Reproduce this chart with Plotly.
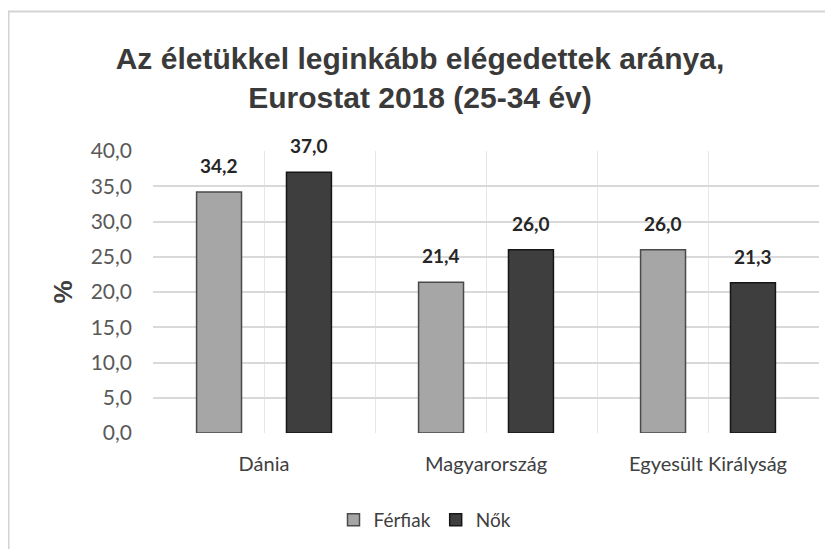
import plotly.graph_objects as go

categories = ["Dánia", "Magyarország", "Egyesült Királyság"]
ferfiak = [34.2, 21.4, 26.0]
nok = [37.0, 26.0, 21.3]
series_names = ["Férfiak", "Nők"]
y_ticks = [0, 5, 10, 15, 20, 25, 30, 35, 40]
title_lines = ["Az életükkel leginkább elégedettek aránya,", "Eurostat 2018 (25-34 év)"]

# page is drawn with an 8px body margin; layout numbers below are in figure px
OFF = 8
W, H = 833, 549
PL, PR, PT, PB = 153 - OFF, 819 - OFF, 151 - OFF, 433 - OFF
pw, ph = PR - PL, PB - PT

BARGAP, GROUPGAP = 0.19, 0.5
slot = (1 - BARGAP) / 2

xpos = list(range(len(categories)))
tickvals, ticktext = [], []
for i, c in enumerate(categories):
    tickvals += [i - 0.5, i]
    ticktext += ["", c]
tickvals.append(len(categories) - 0.5)
ticktext.append("")

lato = "Lato, Noto Sans, sans-serif"

fig = go.Figure()
fig.add_trace(go.Bar(
    x=xpos, y=ferfiak, name=series_names[0],
    marker=dict(color="#a6a6a6", line=dict(color="#4a4a4a", width=1.5)),
))
fig.add_trace(go.Bar(
    x=xpos, y=nok, name=series_names[1],
    marker=dict(color="#3e3e3e", line=dict(color="#161616", width=1.5)),
))

annotations = []
for sgn, vals in ((-1, ferfiak), (1, nok)):
    for i, v in zip(xpos, vals):
        annotations.append(dict(
            x=i + sgn * slot / 2, y=v, xref="x", yref="y",
            text="<b>" + f"{v:.1f}".replace(".", ",") + "</b>",
            showarrow=False, yanchor="bottom", yshift=13,
            font=dict(family=lato, size=19, color="#262626"),
        ))

fig.update_layout(
    width=W, height=H,
    margin=dict(l=PL, r=W - PR, t=PT, b=H - PB, autoexpand=False),
    paper_bgcolor="white", plot_bgcolor="white",
    separators=", ",
    barmode="group", bargap=BARGAP, bargroupgap=GROUPGAP,
    title=dict(
        text="<b>" + "<br>".join(title_lines) + "</b>",
        x=(420 - OFF) / W, xanchor="center", y=1 - 61 / H, yanchor="middle",
        font=dict(family="Liberation Sans, Arial, sans-serif", size=30, color="#3a3a3a"),
    ),
    showlegend=True,
    legend=dict(
        orientation="h", x=(425 - 153) / pw, xanchor="center",
        y=(433 - 520) / ph, yanchor="middle",
        font=dict(family=lato, size=19, color="#404040"),
        itemwidth=30, traceorder="normal",
    ),
    xaxis=dict(
        range=[-0.5, len(categories) - 0.5], automargin=False,
        tickmode="array", tickvals=tickvals, ticktext=ticktext,
        showgrid=True, gridcolor="#e6e6e6", gridwidth=1,
        zeroline=False, showline=False, ticks="",
        tickfont=dict(family=lato, size=20, color="#404040"),
        ticklabelstandoff=17,
    ),
    yaxis=dict(
        range=[0, 40], automargin=False,
        tickmode="array", tickvals=y_ticks, tickformat=".1f",
        showgrid=True, gridcolor="#d9d9d9", gridwidth=1.5,
        zeroline=False, showline=False, ticks="",
        tickfont=dict(family=lato, size=21, color="#595959"),
        ticklabelstandoff=20,
        title=dict(text="<b>%</b>", font=dict(family="Liberation Sans, Arial, sans-serif", size=26, color="#404040"), standoff=10),
    ),
    annotations=annotations,
    shapes=[dict(type="rect", xref="paper", yref="paper",
                 x0=(0.5 - PL) / pw, x1=(W + 40 - PL) / pw,
                 y0=(PB - H - 40) / ph, y1=(PB - 3.5) / ph,
                 line=dict(color="#d3d3d3", width=2), fillcolor="rgba(0,0,0,0)", layer="below")],
)

fig.write_html("out.html")
